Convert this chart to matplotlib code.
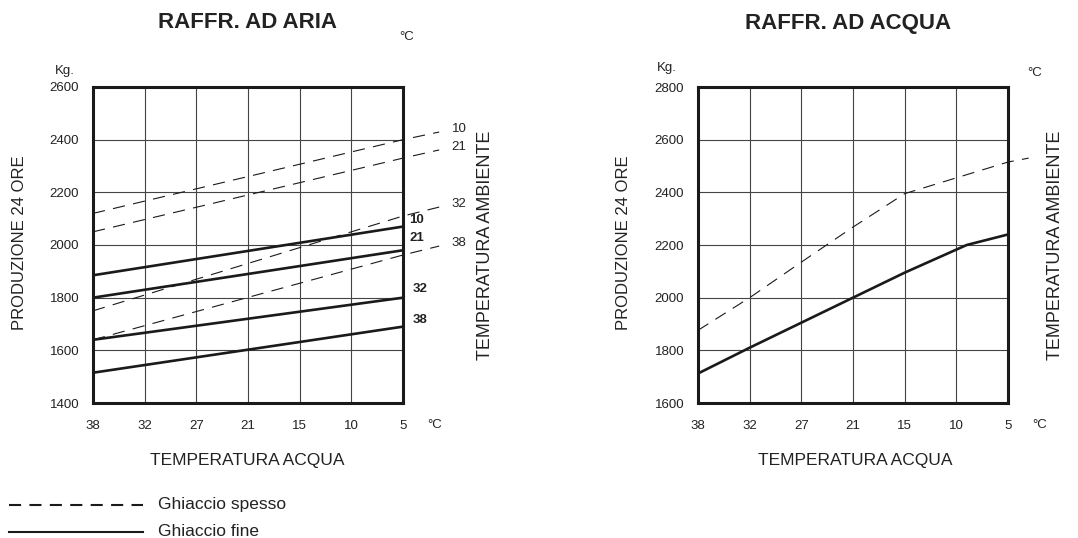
import matplotlib
matplotlib.use('Agg')
import matplotlib.pyplot as plt
from matplotlib.lines import Line2D

plt.rcParams['font.family'] = ['Liberation Sans', 'DejaVu Sans']

W, H = 1078, 538

# asse x: temperatura acqua (posizioni equidistanti)
temp_acqua = ['38', '32', '27', '21', '15', '10', '5']
x_pos = [0, 1, 2, 3, 4, 5, 6]

# RAFFR. AD ARIA - temperatura ambiente
amb_labels = ['10', '21', '32', '38']
# ghiaccio spesso (tratteggio): valori a 38, 5 e prolungamento oltre il bordo
aria_spesso_x = [0, 6, 6.7]
aria_spesso_10 = [2120, 2400, 2429]
aria_spesso_21 = [2050, 2330, 2361]
aria_spesso_32 = [1750, 2110, 2144]
aria_spesso_38 = [1640, 1962, 1996]
# ghiaccio fine (continuo)
aria_fine_x = [0, 6]
aria_fine_10 = [1885, 2070]
aria_fine_21 = [1800, 1980]
aria_fine_32 = [1640, 1800]
aria_fine_38 = [1515, 1690]

# RAFFR. AD ACQUA
acqua_spesso_x = [0, 1, 2, 3, 4, 5, 6, 6.4]
acqua_spesso = [1876, 2000, 2135, 2268, 2395, 2455, 2515, 2530]
acqua_fine_x = [0, 1, 2, 3, 4, 5.2, 6]
acqua_fine = [1712, 1810, 1905, 2000, 2095, 2200, 2240]

aria_yticks = [1400, 1600, 1800, 2000, 2200, 2400, 2600]
acqua_yticks = [1600, 1800, 2000, 2200, 2400, 2600, 2800]

TXT = '#222222'
dash = (11, 7.5)


def fx(px):
    return px / W


def fy(py):
    return 1 - py / H


def setup(ax, yticks):
    ax.set_xlim(0, 6)
    ax.set_ylim(yticks[0], yticks[-1])
    ax.set_xticks(x_pos)
    ax.set_xticklabels(temp_acqua)
    ax.set_yticks(yticks)
    ax.tick_params(length=0, labelsize=9.5, colors=TXT)
    ax.tick_params(axis='x', pad=12)
    ax.tick_params(axis='y', pad=10)
    ax.grid(True, color='#444444', lw=0.8)
    ax.set_axisbelow(True)
    for s in ax.spines.values():
        s.set_linewidth(2.2)
        s.set_color('#1a1a1a')


fig = plt.figure(figsize=(W / 100, H / 100), dpi=100)

ax1 = fig.add_axes([fx(93), fy(403), fx(310), 316 / H])
ax2 = fig.add_axes([fx(698), fy(403), fx(310), 316 / H])
setup(ax1, aria_yticks)
setup(ax2, acqua_yticks)

# --- aria ---
spesso = [aria_spesso_10, aria_spesso_21, aria_spesso_32, aria_spesso_38]
fine = [aria_fine_10, aria_fine_21, aria_fine_32, aria_fine_38]
for lab, ys in zip(amb_labels, spesso):
    ax1.plot(aria_spesso_x, ys, color='#1a1a1a', lw=0.8, dashes=dash, clip_on=False)
    ax1.annotate(lab, (aria_spesso_x[-1], ys[-1]), xytext=(9, 2), textcoords='offset points',
                 fontsize=9.5, color=TXT, va='center', annotation_clip=False)
fine_off = [5, 9, 6, 5]
for lab, ys, off in zip(amb_labels, fine, fine_off):
    ax1.plot(aria_fine_x, ys, color='#1a1a1a', lw=1.9, solid_capstyle='butt')
    ax1.annotate(lab, (aria_fine_x[-1], ys[-1]), xytext=(12 if lab in ('32', '38') else 10, off),
                 textcoords='offset points', fontsize=9.5, fontweight='bold', color=TXT,
                 va='center', ha='center', annotation_clip=False)

# --- acqua ---
ax2.plot(acqua_spesso_x, acqua_spesso, color='#1a1a1a', lw=0.8, dashes=dash, clip_on=False)
ax2.plot(acqua_fine_x, acqua_fine, color='#1a1a1a', lw=1.9)

# titoli e testi
fig.text(fx(248), fy(23), 'RAFFR. AD ARIA', fontsize=16, fontweight='bold', color=TXT,
         ha='center', va='center')
fig.text(fx(848), fy(23), 'RAFFR. AD ACQUA', fontsize=16, fontweight='bold', color=TXT,
         ha='center', va='center')

for xk, yk in [(65, 71), (667, 68)]:
    fig.text(fx(xk), fy(yk), 'Kg.', fontsize=9.5, color=TXT, ha='center', va='center')

fig.text(fx(407), fy(37), '°C', fontsize=9.5, color=TXT, ha='center', va='center')
fig.text(fx(1035), fy(73), '°C', fontsize=9.5, color=TXT, ha='center', va='center')
fig.text(fx(435), fy(425), '°C', fontsize=9.5, color=TXT, ha='center', va='center')
fig.text(fx(1040), fy(425), '°C', fontsize=9.5, color=TXT, ha='center', va='center')

for xl in (20, 623):
    fig.text(fx(xl), fy(243), 'PRODUZIONE 24 ORE', fontsize=12, color=TXT, rotation=90,
             ha='center', va='center')
for xr in (485, 1055):
    fig.text(fx(xr), fy(245), 'TEMPERATURA AMBIENTE', fontsize=13, color=TXT, rotation=90,
             ha='center', va='center')
for xc in (247, 855):
    fig.text(fx(xc), fy(461), 'TEMPERATURA ACQUA', fontsize=12.5, color=TXT,
             ha='center', va='center')

# legenda
fig.add_artist(Line2D([fx(9), fx(143)], [fy(505), fy(505)], color='#1a1a1a', lw=1.5,
                      dashes=(5.8, 4)))
fig.add_artist(Line2D([fx(9), fx(143)], [fy(532), fy(532)], color='#1a1a1a', lw=1.5))
fig.text(fx(158), fy(505), 'Ghiaccio spesso', fontsize=12.5, color=TXT, va='center')
fig.text(fx(158), fy(531), 'Ghiaccio fine', fontsize=12.5, color=TXT, va='center')

fig.savefig('out.png', dpi=100)
